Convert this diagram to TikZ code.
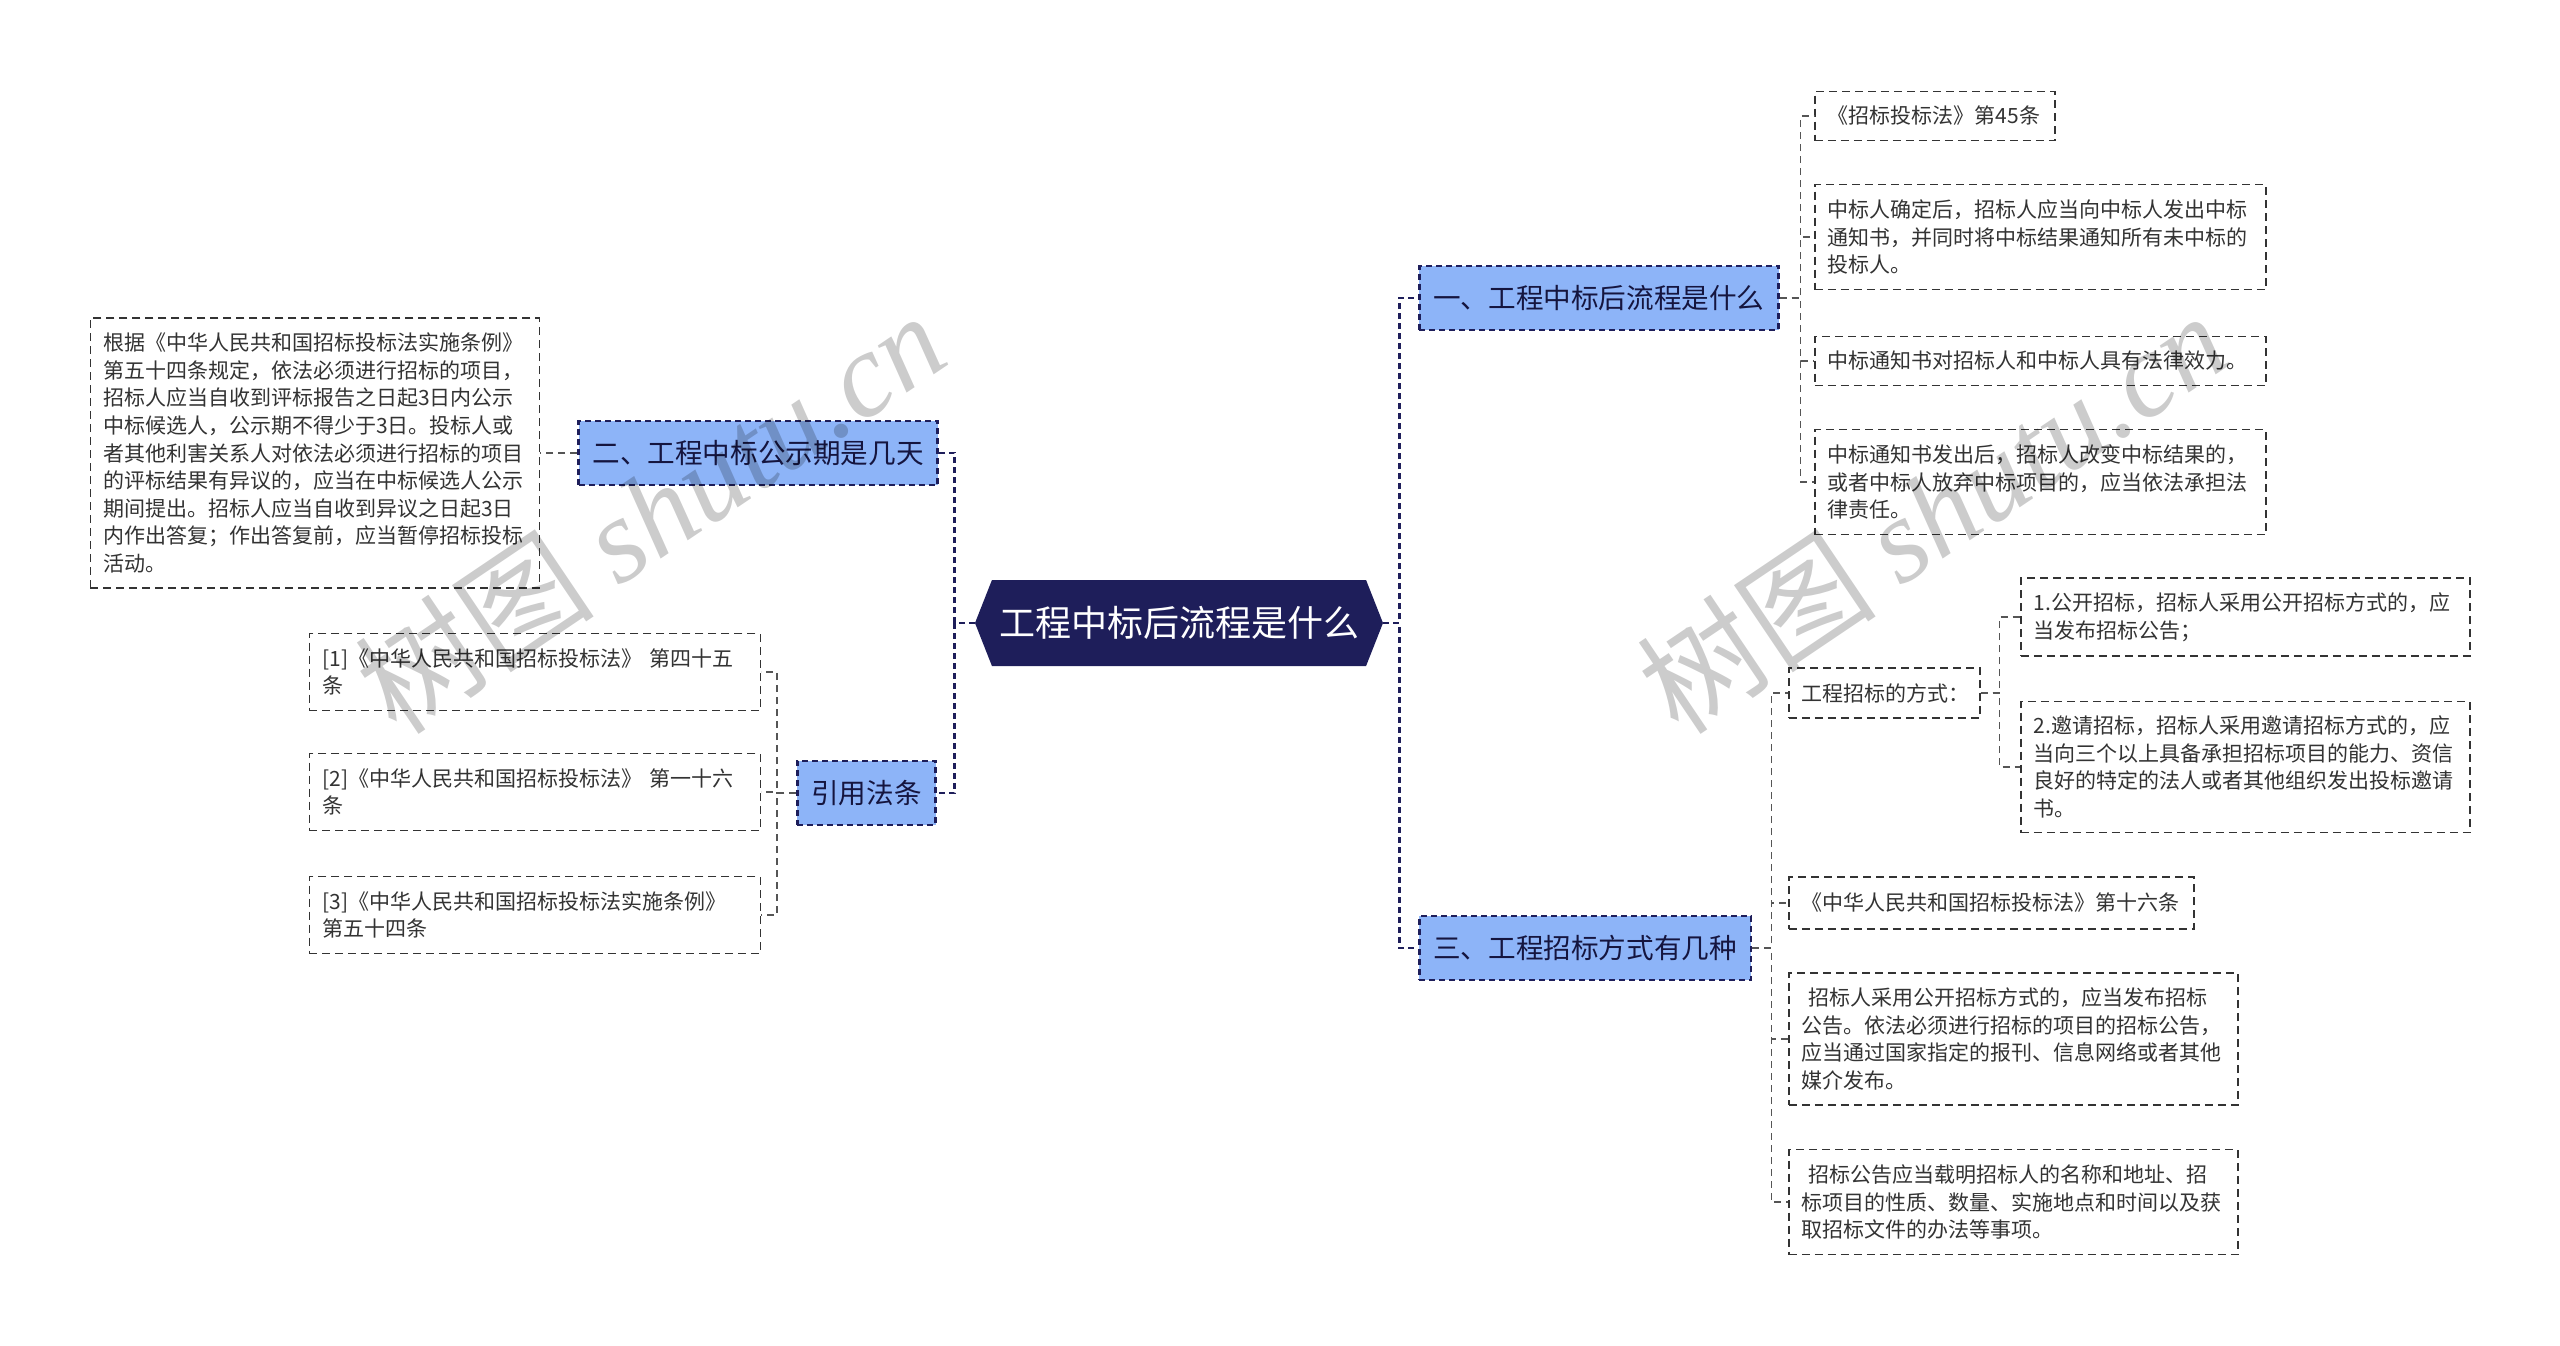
\documentclass[tikz,border=0pt]{standalone}
\usepackage{fontspec}
\setmainfont{Noto Sans CJK SC}
\newfontfamily\wmlatin{Liberation Serif}
\usepackage{tikz}
\usetikzlibrary{positioning,shapes.symbols}
\definecolor{mapNavy}{HTML}{1E1E5A}
\definecolor{mapBlue}{HTML}{8DB4F8}
\definecolor{mapInk}{HTML}{333333}
\definecolor{mapGrey}{HTML}{555555}

\begin{document}
\begin{tikzpicture}[
    x=0.5pt, y=-0.5pt,
    every node/.style={font=\fontsize{10.5}{13.8}\selectfont},
    hub/.style={shape=signal, signal to=west and east, signal pointer angle=137, fill=mapNavy, text=white, font=\fontsize{18}{22}\selectfont, minimum width=204pt, minimum height=43pt, inner sep=0pt},
    topic/.style={draw=mapNavy, line width=1.3pt, dash pattern=on 3pt off 2pt, fill=mapBlue, text=mapNavy!70!black, font=\fontsize{13.8}{16}\selectfont, inner xsep=7pt, inner ysep=0pt, minimum height=32pt},
    leaf/.style={draw=mapInk, line width=0.75pt, dash pattern=on 4pt off 2.5pt, fill=white, text=mapInk, align=left, inner xsep=6.5pt, inner ysep=3pt, text width=#1},
    leaf/.default=212.5pt,
    hublink/.style={draw=mapNavy, line width=1.3pt, dash pattern=on 3pt off 2pt},
    link/.style={draw=mapGrey, line width=0.6pt, dash pattern=on 3.5pt off 2.5pt},
    wmark/.style={text=black, text opacity=0.2, font=\fontsize{60}{60}\selectfont, rotate=34, inner sep=0pt}
  ]
    \useasboundingbox (0,0) rectangle (2560,1345);

    % centre and first level
    \node[hub] (hub) at (1179,623) {工程中标后流程是什么};
    \node[topic, anchor=west] (q1) at (1418,298) {一、工程中标后流程是什么};
    \node[topic, anchor=east] (q2) at (939,453) {二、工程中标公示期是几天};
    \node[topic, anchor=west] (q3) at (1418,948) {三、工程招标方式有几种};
    \node[topic, anchor=east] (refs) at (937,793) {引用法条};

    % left side
    \node[leaf=211.5pt, minimum height=135pt, anchor=east] (q2a) at (540,453) {根据《中华人民共和国招标投标法实施条例》\\第五十四条规定，依法必须进行招标的项目，\\招标人应当自收到评标报告之日起3日内公示\\中标候选人，公示期不得少于3日。投标人或\\者其他利害关系人对依法必须进行招标的项目\\的评标结果有异议的，应当在中标候选人公示\\期间提出。招标人应当自收到异议之日起3日\\内作出答复；作出答复前，应当暂停招标投标\\活动。};
    \node[leaf, minimum height=38.5pt, anchor=east] (r1) at (761,672) {[1]《中华人民共和国招标投标法》 第四十五\\条};
    \node[leaf, minimum height=38.5pt, anchor=east] (r2) at (761,792) {[2]《中华人民共和国招标投标法》 第一十六\\条};
    \node[leaf, minimum height=38.5pt, anchor=east] (r3) at (761,915) {[3]《中华人民共和国招标投标法实施条例》\\第五十四条};

    % right side, part one
    \node[leaf=107pt, minimum height=24.5pt, anchor=west] (c1) at (1814,116) {《招标投标法》第45条};
    \node[leaf, minimum height=52.5pt, anchor=west] (c2) at (1814,237) {中标人确定后，招标人应当向中标人发出中标\\通知书，并同时将中标结果通知所有未中标的\\投标人。};
    \node[leaf, minimum height=24.5pt, anchor=west] (c3) at (1814,361) {中标通知书对招标人和中标人具有法律效力。};
    \node[leaf, minimum height=52.5pt, anchor=west] (c4) at (1814,482) {中标通知书发出后，招标人改变中标结果的，\\或者中标人放弃中标项目的，应当依法承担法\\律责任。};

    % right side, part three
    \node[leaf=82.5pt, minimum height=25pt, anchor=west] (m) at (1788,693) {工程招标的方式：};
    \node[leaf=211.5pt, minimum height=39pt, anchor=west] (m1) at (2020,617) {1.公开招标，招标人采用公开招标方式的，应\\当发布招标公告；};
    \node[leaf=211.5pt, minimum height=65.5pt, anchor=west] (m2) at (2020,767) {2.邀请招标，招标人采用邀请招标方式的，应\\当向三个以上具备承担招标项目的能力、资信\\良好的特定的法人或者其他组织发出投标邀请\\书。};
    \node[leaf=189.5pt, minimum height=26pt, anchor=west] (s1) at (1788,903) {《中华人民共和国招标投标法》第十六条};
    \node[leaf=211.5pt, minimum height=66pt, anchor=west] (s2) at (1788,1039) {\hspace*{0.3em}招标人采用公开招标方式的，应当发布招标\\公告。依法必须进行招标的项目的招标公告，\\应当通过国家指定的报刊、信息网络或者其他\\媒介发布。};
    \node[leaf=211.5pt, minimum height=52.5pt, anchor=west] (s3) at (1788,1202) {\hspace*{0.3em}招标公告应当载明招标人的名称和地址、招\\标项目的性质、数量、实施地点和时间以及获\\取招标文件的办法等事项。};

    % connectors
    \draw[hublink] (hub.west) -- ++(-20,0) |- (q2.east);
    \draw[hublink] (hub.west) -- ++(-20,0) |- (refs.east);
    \draw[hublink] (hub.east) -- ++(16,0) |- (q1.west);
    \draw[hublink] (hub.east) -- ++(16,0) |- (q3.west);
    \draw[link] (q2.west) -- (q2a.east);
    \foreach \r in {r1,r2,r3}
      \draw[link] (refs.west) -- ++(-19,0) |- (\r.east);
    \foreach \c in {c1,c2,c3,c4}
      \draw[link] (q1.east) -- ++(21,0) |- (\c.west);
    \foreach \c in {m,s1,s2,s3}
      \draw[link] (q3.east) -- ++(19,0) |- (\c.west);
    \foreach \c in {m1,m2}
      \draw[link] (m.east) -- ++(19,0) |- (\c.west);

    % watermark
    \node[wmark] (wm1) at (650,512) {树图 {\wmlatin\itshape shutu.cn}};
    \node[wmark] (wm2) at (1932,512) {树图 {\wmlatin\itshape shutu.cn}};
  \end{tikzpicture}
\end{document}
